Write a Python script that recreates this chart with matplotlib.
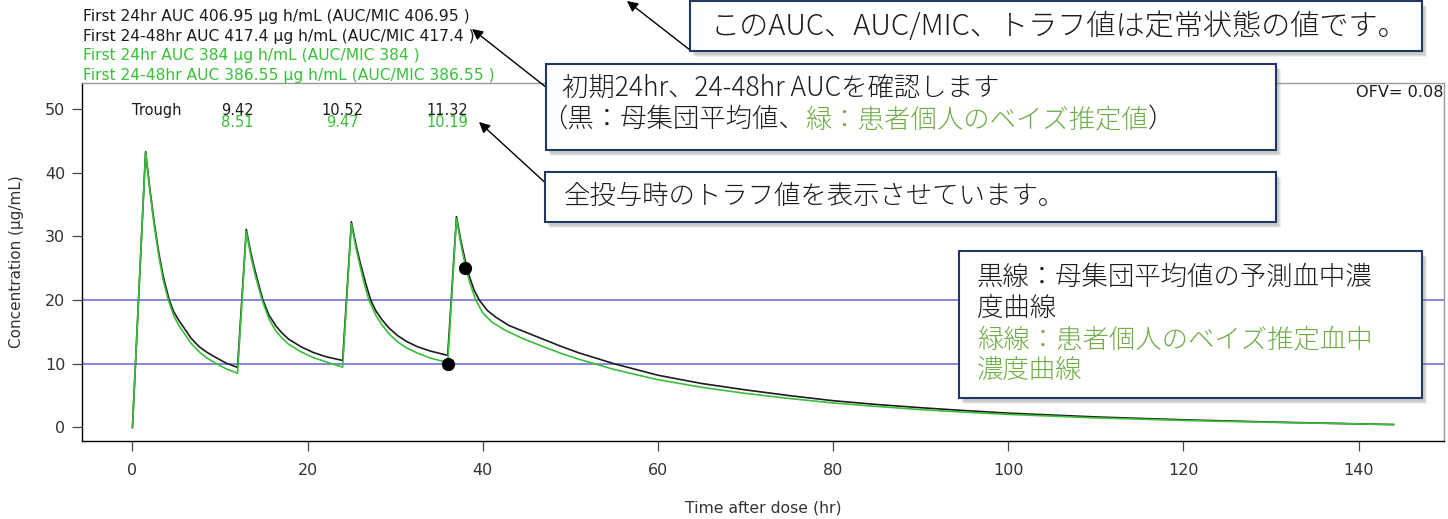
import matplotlib
matplotlib.use("Agg")
import matplotlib.pyplot as plt
from matplotlib.patches import Rectangle, FancyArrowPatch

# ---------------- data ----------------
time_pop = [0, 1.5, 2.0, 2.5, 3.0, 3.5, 4.2, 4.7, 5.3, 5.9, 6.7, 7.6, 8.5, 9.5, 10.7, 12,
            13, 13.5, 14, 14.5, 14.9, 15.6, 16.4, 17.1, 17.8, 19.2, 20.6, 22.1, 24,
            25, 25.5, 26, 26.6, 27.2, 27.8, 28.5, 29.3, 30.3, 31.3, 32.5, 34, 36,
            37, 37.5, 38, 38.5, 39, 39.6, 40.5, 41.5, 43, 45, 47, 49, 51, 55, 60, 65, 70, 75,
            80, 85, 90, 95, 100, 110, 120, 130, 144]
conc_pop = [0, 43.3, 37.3, 32.0, 27.5, 23.8, 20.0, 18.2, 16.8, 15.6, 14.0, 12.7, 11.8, 11.0, 10.1, 9.42,
            31.1, 27.5, 24.6, 22.0, 20.0, 17.6, 15.9, 14.8, 13.9, 12.7, 11.8, 11.1, 10.52,
            32.3, 28.8, 25.9, 22.8, 20.0, 18.3, 16.9, 15.6, 14.4, 13.5, 12.7, 12.0, 11.32,
            33.1, 29.3, 26.2, 23.6, 21.6, 20.0, 18.4, 17.3, 16.0, 14.9, 13.8, 12.7, 11.7, 10.0, 8.2, 6.9, 5.9, 5.0,
            4.2, 3.6, 3.1, 2.65, 2.25, 1.65, 1.2, 0.85, 0.45]

time_ind = [0, 1.5, 2.0, 2.5, 3.0, 3.5, 4.1, 4.7, 5.3, 5.9, 6.7, 7.6, 8.5, 9.5, 10.7, 12,
            13, 13.5, 14, 14.8, 15.6, 16.4, 17.1, 17.8, 19.2, 20.6, 22.1, 24,
            25, 25.5, 26, 26.5, 27.0, 27.8, 28.5, 29.3, 30.3, 31.3, 32.5, 34, 36,
            37, 37.5, 38, 38.5, 39.2, 40, 41, 42.5, 44.5, 46.5, 49, 51, 55, 60, 65, 70, 75,
            80, 85, 90, 95, 100, 110, 120, 130, 144]
conc_ind = [0, 43.2, 37.0, 31.5, 27.0, 23.2, 20.0, 17.6, 16.0, 14.8, 13.2, 11.9, 10.9, 10.1, 9.2, 8.51,
            30.8, 27.0, 24.0, 20.0, 17.0, 15.1, 14.0, 13.1, 11.9, 11.0, 10.3, 9.47,
            32.0, 28.3, 25.3, 22.4, 20.0, 17.6, 16.1, 14.7, 13.4, 12.5, 11.7, 10.9, 10.19,
            32.8, 28.8, 25.5, 22.8, 20.0, 18.0, 16.6, 15.3, 14.0, 12.9, 11.6, 10.7, 9.1, 7.5, 6.3, 5.35, 4.55,
            3.85, 3.3, 2.8, 2.4, 2.05, 1.5, 1.1, 0.8, 0.45]

obs_time = [36, 38]
obs_conc = [10.0, 25.0]

target_lines = [10, 20]

trough_times = [12, 24, 36]
trough_pop = ["9.42", "10.52", "11.32"]
trough_ind = ["8.51", "9.47", "10.19"]

auc_pop_24 = "406.95"
auc_pop_48 = "417.4"
auc_ind_24 = "384"
auc_ind_48 = "386.55"
ofv = "0.08"

x_ticks = [0, 20, 40, 60, 80, 100, 120, 140]
y_ticks = [0, 10, 20, 30, 40, 50]

# ---------------- styling ----------------
W, H = 1448, 519
BLACK = "#1c1c1c"
GREEN = "#38c038"
OFFICE_GREEN = "#70ad47"
NAVY = "#1f3864"
BLUE = "#6464d8"
CJK = ["Noto Sans CJK JP", "DejaVu Sans"]

fig = plt.figure(figsize=(W / 100, H / 100), dpi=100)
fig.patch.set_facecolor("white")


def P(x, y):
    return (x / W, 1 - y / H)


ax_l, ax_r, ax_t, ax_b = 82, 1444, 83, 440.7
ax = fig.add_axes([ax_l / W, 1 - ax_b / H, (ax_r - ax_l) / W, (ax_b - ax_t) / H])

for y in target_lines:
    ax.axhline(y, color=BLUE, lw=1.1, zorder=1)
ax.plot(time_pop, conc_pop, color=BLACK, lw=1.2, zorder=2)
ax.plot(time_ind, conc_ind, color=GREEN, lw=1.2, zorder=3)
ax.plot(obs_time, obs_conc, "o", color="black", ms=8.5, zorder=4)

ax.set_xlim(-5.76, 149.76)
ax.set_ylim(-2.08, 54.08)
ax.set_xticks(x_ticks)
ax.set_yticks(y_ticks)
ax.tick_params(axis="both", length=7, width=0.9, color="#444444", labelcolor="#333333",
               labelsize=11.5)
ax.tick_params(axis="y", pad=5)
ax.tick_params(axis="x", pad=9)
for s in ["left", "bottom"]:
    ax.spines[s].set_color("black")
    ax.spines[s].set_linewidth(1.0)
for s in ["top", "right"]:
    ax.spines[s].set_color("#9a9a9a")
    ax.spines[s].set_linewidth(1.0)

renderer = fig.canvas.get_renderer()


def fit(t, target, use_height=False):
    bb = t.get_window_extent(renderer)
    cur = bb.height if use_height else bb.width
    t.set_fontsize(t.get_fontsize() * target / cur)


ax.set_xlabel("Time after dose (hr)", fontsize=11, color="#333333")
ax.xaxis.set_label_coords(0.5, (ax_b - 508) / (ax_b - ax_t))
ax.xaxis.label.set_va("center")
fit(ax.xaxis.label, 157)
ax.set_ylabel("Concentration (µg/mL)", fontsize=11, color="#333333")
ax.yaxis.set_label_coords((17 - ax_l) / (ax_r - ax_l), (ax_b - 261.5) / (ax_b - ax_t))
ax.yaxis.label.set_va("center")
fit(ax.yaxis.label, 173, use_height=True)

# trough row
t_tr = ax.text(0, 49.06, "Trough", color=BLACK, fontsize=10.5, ha="left", va="baseline")
row = []
for tt, vp, vi in zip(trough_times, trough_pop, trough_ind):
    a = ax.text(tt, 49.06, vp, color=BLACK, fontsize=10.5, ha="center", va="baseline")
    b = ax.text(tt, 47.13, vi, color=GREEN, fontsize=10.5, ha="center", va="baseline")
    row += [a, b]
fit(row[2], 42.3)
for t in row + [t_tr]:
    t.set_fontsize(row[2].get_fontsize())

# OFV
t_ofv = fig.text(*P(1443, 92), f"OFV= {ofv}", color=BLACK, fontsize=10, ha="right", va="center")
fit(t_ofv, 87)

# top-left AUC lines
auc_lines = [
    (f"First 24hr AUC {auc_pop_24} µg h/mL (AUC/MIC {auc_pop_24} )", BLACK, 20.7),
    (f"First 24-48hr AUC {auc_pop_48} µg h/mL (AUC/MIC {auc_pop_48} )", BLACK, 40.5),
    (f"First 24hr AUC {auc_ind_24} µg h/mL (AUC/MIC {auc_ind_24} )", GREEN, 60.3),
    (f"First 24-48hr AUC {auc_ind_48} µg h/mL (AUC/MIC {auc_ind_48} )", GREEN, 80.0),
]
auc_texts = []
for s, c, yb in auc_lines:
    auc_texts.append(fig.text(*P(83, yb), s, color=c, fontsize=10.5, ha="left", va="baseline"))
fit(auc_texts[0], 389)
for t in auc_texts[1:]:
    t.set_fontsize(auc_texts[0].get_fontsize())


# ---------------- callout boxes ----------------
def box(x0, y0, x1, y1):
    for dx, dy, al in [(5, 6, 0.12), (4, 5, 0.15), (3, 4, 0.2)]:
        fig.add_artist(Rectangle(P(x0 + dx, y1 + dy), (x1 - x0) / W, (y1 - y0) / H,
                                 transform=fig.transFigure, facecolor="#7f7f7f",
                                 edgecolor="none", alpha=al, zorder=9))
    fig.add_artist(Rectangle(P(x0, y1), (x1 - x0) / W, (y1 - y0) / H,
                             transform=fig.transFigure, facecolor="white",
                             edgecolor=NAVY, lw=1.5, zorder=10))


def arrow(tail, head):
    fig.add_artist(FancyArrowPatch(P(*tail), P(*head), transform=fig.transFigure,
                                   arrowstyle="-|>", mutation_scale=16, lw=1.0,
                                   color="black", shrinkA=0, shrinkB=0, zorder=8))


arrow((690, 50), (627, 1))
arrow((575, 110), (472, 29))
arrow((575, 210), (479, 122))

box(690, 1, 1422, 51)
box(546, 64, 1276, 150)
box(545, 172, 1276, 222)
box(959, 251, 1422, 398)

CJK_SIZE = 19
CJK_W = "light"
t1 = fig.text(*P(711, 27), "このAUC、AUC/MIC、トラフ値は定常状態の値です。", family=CJK,
              fontsize=CJK_SIZE, fontweight=CJK_W, color=BLACK, ha="left", va="center", zorder=11)
fit(t1, 697)

fig.text(*P(562, 88), "初期24hr、24-48hr AUCを確認します", family=CJK, fontsize=CJK_SIZE,
         fontweight=CJK_W, color=BLACK, ha="left", va="center", zorder=11)

x = 541
for s, c in [("（黒：母集団平均値、", BLACK), ("緑：患者個人のベイズ推定値", OFFICE_GREEN), ("）", BLACK)]:
    tt = fig.text(*P(x, 119), s, family=CJK, fontsize=CJK_SIZE, fontweight=CJK_W, color=c,
                  ha="left", va="center", zorder=11)
    x += tt.get_window_extent(renderer).width

fig.text(*P(564, 196), "全投与時のトラフ値を表示させています。", family=CJK, fontsize=CJK_SIZE,
         fontweight=CJK_W, color=BLACK, ha="left", va="center", zorder=11)

legend_lines = [
    ("黒線：母集団平均値の予測血中濃", BLACK, 277),
    ("度曲線", BLACK, 307.5),
    ("緑線：患者個人のベイズ推定血中", OFFICE_GREEN, 339),
    ("濃度曲線", OFFICE_GREEN, 370),
]
for s, c, yc in legend_lines:
    fig.text(*P(977, yc), s, family=CJK, fontsize=CJK_SIZE, fontweight=CJK_W, color=c,
             ha="left", va="center", zorder=11)

fig.savefig("out.png", dpi=100, facecolor="white")
